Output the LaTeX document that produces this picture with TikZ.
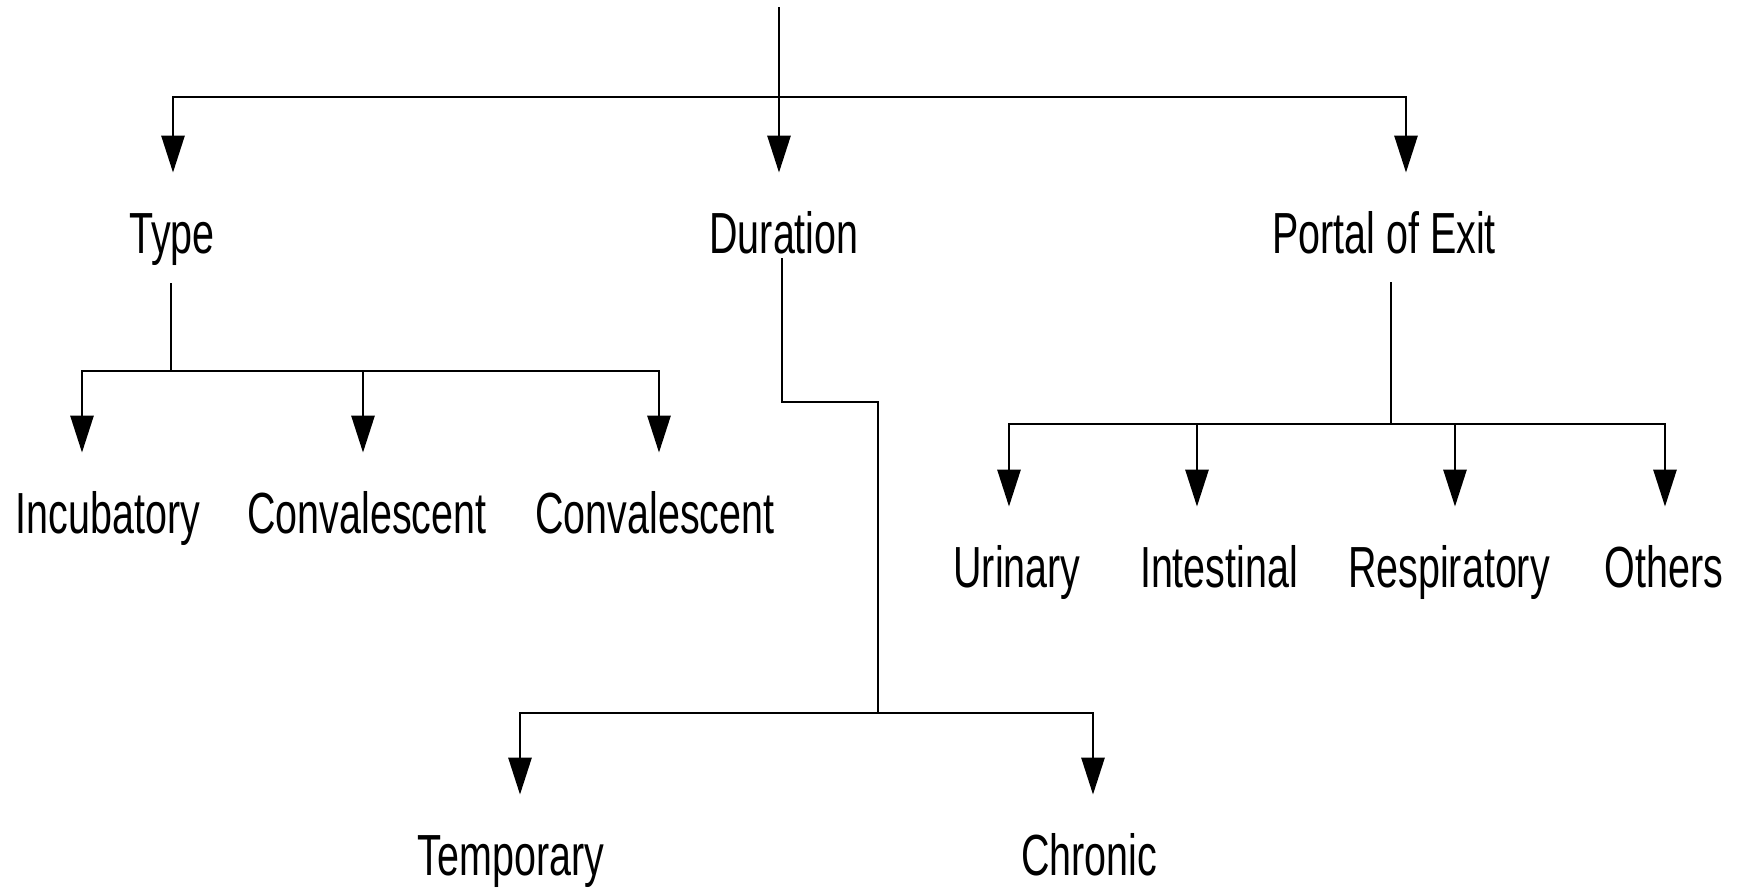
\documentclass[tikz,border=0pt]{standalone}
\usepackage{fontspec}
\setmainfont{Liberation Sans}[FakeStretch=0.68]
\usetikzlibrary{arrows.meta,calc}
\tikzset{
  lbl/.style={inner sep=0pt, anchor=base, text height=20.5pt, text depth=0pt, font=\fontsize{29}{34}\selectfont},
  conn/.style={line width=1.4pt, black},
  arr/.style={conn, -{Triangle[length=18.5pt,width=11.5pt]}, shorten >=19.5pt}
}
\begin{document}
\begin{tikzpicture}[x=0.5pt,y=-0.5pt]
\useasboundingbox (0,0) rectangle (1742,891);
% labels
\node[lbl] (type)   at (172,253) {Type};
\node[lbl] (dur)    at (784,253) {Duration};
\node[lbl] (portal) at (1384,253) {Portal of Exit};
\node[lbl] (inc)    at (108,533) {Incubatory};
\node[lbl] (conva)  at (367,533) {Convalescent};
\node[lbl] (convb)  at (655,533) {Convalescent};
\node[lbl] (temp)   at (511,875) {Temporary};
\node[lbl] (chron)  at (1089,875) {Chronic};
\node[lbl] (uri)    at (1017,587) {Urinary};
\node[lbl] (intes)  at (1219,587) {Intestinal};
\node[lbl] (resp)   at (1449,587) {Respiratory};
\node[lbl] (oth)    at (1664,587) {Others};
% junctions
\coordinate (root) at (779,7);
\coordinate (barA) at (779,97);
\coordinate (barB) at (171,371);
\coordinate (bend) at (878,402);
\coordinate (barC) at (878,713);
\coordinate (barD) at (1391,424);
% top level
\draw[arr] (root) -- ($(dur.north)+(-5,0)$);
\draw[arr] (barA) -| ($(type.north)+(1,0)$);
\draw[arr] (barA) -| ($(portal.north)+(22,0)$);
% type branch
\draw[conn] ($(type.base)+(-1,30)$) -- (barB);
\draw[arr] (barB) -| ($(inc.north)+(-26,0)$);
\draw[arr] (barB) -| ($(conva.north)+(-4,0)$);
\draw[arr] (barB) -| ($(convb.north)+(4,0)$);
% duration branch
\draw[conn] ($(dur.base)+(-2,5)$) |- (bend) -- (barC);
\draw[arr] (barC) -| ($(temp.north)+(9,0)$);
\draw[arr] (barC) -| ($(chron.north)+(4,0)$);
% portal branch
\draw[conn] ($(portal.base)+(7,29)$) -- (barD);
\draw[arr] (barD) -| ($(uri.north)+(-8,0)$);
\draw[arr] (barD) -| ($(intes.north)+(-22,0)$);
\draw[arr] (barD) -| ($(resp.north)+(6,0)$);
\draw[arr] (barD) -| ($(oth.north)+(1,0)$);
\end{tikzpicture}
\end{document}
